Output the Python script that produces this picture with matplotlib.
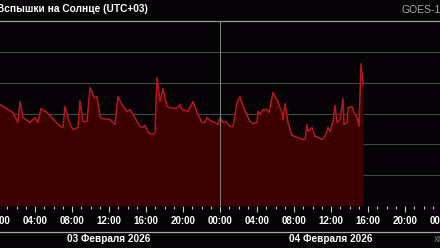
import matplotlib
matplotlib.use('Agg')
import matplotlib.pyplot as plt
import matplotlib.transforms as mtransforms
from matplotlib.lines import Line2D
from matplotlib.ticker import MultipleLocator, FuncFormatter

plt.rcParams['font.family'] = ['Liberation Sans', 'DejaVu Sans']

# hours since 03 Feb 00:00 (UTC+03), GOES X-ray flux in W/m^2
hours = [0.0, 0.22, 1.62, 2.16, 2.38, 2.70, 3.46, 4.0, 4.32, 4.65, 5.3, 6.49,
         7.03, 7.24, 7.78, 8.11, 8.65, 8.86, 9.19, 9.62, 9.95, 10.38, 10.7,
         11.03, 11.24, 12.11, 12.65, 12.97, 13.51, 13.95, 14.27, 14.59, 15.35,
         15.68, 15.89, 16.22, 16.76, 16.97, 17.19, 17.51, 17.84, 18.27, 18.92,
         19.46, 19.67, 19.89, 20.54, 21.08, 21.51, 22.05, 22.38, 22.59, 22.92,
         23.46, 23.78, 24.0, 24.32, 24.65, 25.08, 25.41, 25.84, 26.16, 26.49,
         27.24, 27.57, 28.0, 28.11, 28.32, 28.65, 29.08, 29.3, 29.73, 30.16,
         30.70, 30.81, 31.03, 31.35, 31.78, 32.32, 32.86, 33.19, 33.4, 33.51,
         33.94, 34.27, 34.59, 35.03, 35.35, 35.68, 35.89, 36.22, 36.43, 36.65,
         36.97, 37.3, 37.4, 37.73, 37.84, 38.27, 38.49, 38.81, 39.03, 39.24,
         39.46]
flux = [2.3e-6, 1.95e-6, 1.08e-6, 5.1e-7, 2.45e-6, 7.4e-7, 5.1e-7, 7.4e-7,
        5.1e-7, 1.45e-6, 1.08e-6, 4.4e-7, 3.5e-7, 1.7e-6, 4.4e-7, 3.05e-7,
        3.5e-7, 2.6e-6, 5.5e-7, 5.5e-7, 6.9e-6, 3.3e-6, 3.5e-6, 8.0e-7,
        6.9e-7, 6.4e-7, 4.4e-7, 3.5e-6, 1.7e-6, 1.16e-6, 1.35e-6, 9.3e-7,
        3.8e-7, 3.5e-7, 4.1e-7, 2.45e-7, 2.1e-7, 2.45e-7, 1.45e-5, 2.45e-6,
        6.4e-6, 1.7e-6, 1.45e-6, 1.55e-6, 1.95e-6, 1.35e-6, 1.16e-6, 2.45e-6,
        1.08e-6, 5.1e-7, 5.1e-7, 7.4e-7, 5.9e-7, 5.1e-7, 4.4e-7, 7.4e-7,
        5.1e-7, 5.5e-7, 3.8e-7, 3.8e-7, 2.3e-6, 3.5e-6, 1.7e-6, 5.5e-7,
        4.75e-7, 5.1e-7, 1.16e-6, 9.3e-7, 1.35e-6, 1.35e-6, 1.08e-6, 4.75e-6,
        2.8e-6, 1.08e-6, 6.4e-7, 2.1e-6, 5.1e-7, 1.95e-7, 1.7e-7, 1.45e-7,
        1.45e-7, 4.4e-7, 2.6e-7, 3.5e-7, 1.8e-7, 1.7e-7, 1.45e-7, 1.8e-7,
        3.5e-7, 2.6e-7, 5.5e-7, 1.8e-6, 5.1e-7, 6.4e-7, 3.05e-6, 4.4e-7,
        5.1e-7, 1.55e-6, 1.7e-6, 1.08e-6, 7.4e-7, 3.8e-7, 4.1e-5, 8.6e-6]

day_labels = ['03 Февраля 2026', '04 Февраля 2026']
day_centers = [12, 36]
title = 'Вспышки на Солнце (UTC+03)'

bg = '#050305'
fig = plt.figure(figsize=(4.4, 2.48), dpi=100)
fig.patch.set_facecolor(bg)
ax = fig.add_axes([-2 / 440, 42 / 248, 444 / 440, 185 / 248])
ax.set_facecolor(bg)

ax.fill_between(hours, flux, 1e-9, color='#3c0000', lw=0, zorder=2)
ax.plot(hours, flux, color='#b8161f', lw=1.1, zorder=3)
ax.axvline(24, color='#7a7a7a', lw=0.8, zorder=4)

ax.set_yscale('log')
ax.set_ylim(1e-9, 1e-3)
ax.set_xlim(0, 48)
ax.yaxis.grid(True, color='#474747', lw=0.8, zorder=1)
ax.set_axisbelow(True)
ax.tick_params(axis='y', left=False, labelleft=False, which='both')

ax.xaxis.set_major_locator(MultipleLocator(4))
ax.xaxis.set_minor_locator(MultipleLocator(1))
ax.xaxis.set_major_formatter(FuncFormatter(lambda v, p: '%02d:00' % (int(round(v)) % 24)))
ax.tick_params(axis='x', which='major', direction='out', length=4, width=0.8,
               color='#cccccc', labelcolor='white', labelsize=7, pad=3.5)
ax.tick_params(axis='x', which='minor', direction='out', length=2.5, width=0.8,
               color='#cccccc')
for lab in ax.get_xticklabels():
    lab.set_fontweight('bold')

for s in ['left', 'right', 'bottom']:
    ax.spines[s].set_visible(False)
ax.spines['top'].set_color('#9a9a9a')
ax.spines['top'].set_linewidth(0.9)

fig.add_artist(Line2D([0, 1], [0.0657, 0.0657], transform=fig.transFigure,
                      color='#aaaaaa', lw=0.9))
trans = mtransforms.blended_transform_factory(ax.transData, fig.transFigure)
for c, lab in zip(day_centers, day_labels):
    ax.text(c, 0.036, lab, transform=trans, ha='center', va='center',
            color='white', fontsize=7.2, fontweight='bold', clip_on=False)

fig.text(-0.006, 0.962, title, ha='left', va='center', color='white',
         fontsize=7.3, fontweight='bold')
fig.text(401 / 440, 0.958, 'GOES-18', ha='left', va='center', color='#aaaaaa',
         fontsize=7.5)
fig.text(434 / 440, 0.036, 'xras.ru', ha='left', va='center', color='#777777',
         fontsize=7)

fig.savefig('out.png', dpi=100, facecolor=bg)
